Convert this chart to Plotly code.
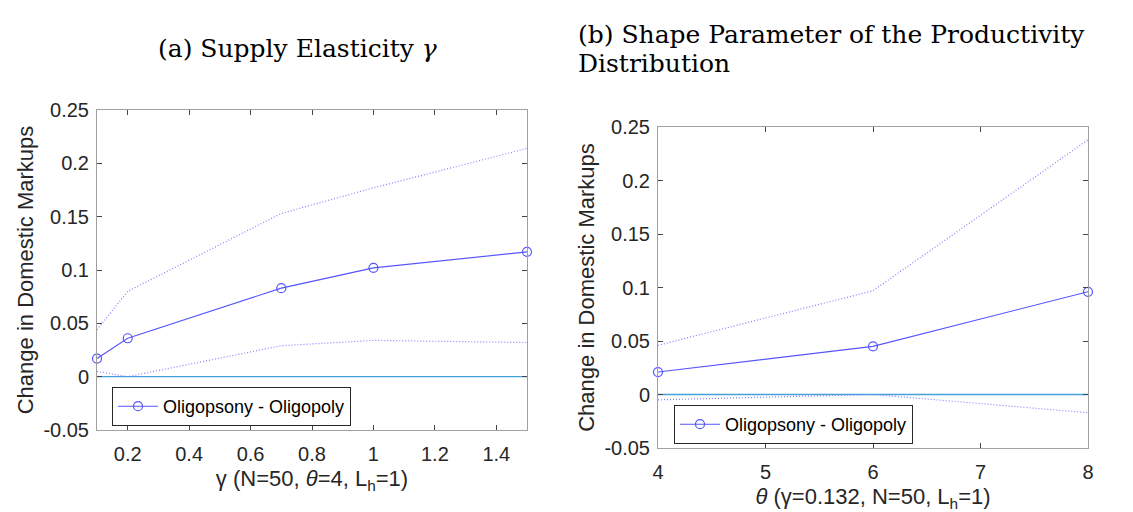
import plotly.graph_objects as go

# Panel (a): supply elasticity gamma
gamma = [0.1, 0.2, 0.7, 1.0, 1.5]
gamma_mid = [0.017, 0.036, 0.083, 0.102, 0.117]
gamma_up = [0.044, 0.080, 0.153, 0.177, 0.214]
gamma_lo = [0.005, 0.000, 0.029, 0.034, 0.032]

# Panel (b): shape parameter theta
theta = [4, 6, 8]
theta_mid = [0.021, 0.045, 0.096]
theta_up = [0.046, 0.097, 0.238]
theta_lo = [-0.005, 0.000, -0.017]

series_name = "Oligopsony - Oligopoly"
y_ticks = [-0.05, 0, 0.05, 0.1, 0.15, 0.2, 0.25]
y_ticklabels = ["-0.05", "0", "0.05", "0.1", "0.15", "0.2", "0.25"]
gx_ticks = [0.2, 0.4, 0.6, 0.8, 1.0, 1.2, 1.4]
gx_ticklabels = ["0.2", "0.4", "0.6", "0.8", "1", "1.2", "1.4"]
tx_ticks = [4, 5, 6, 7, 8]

MAIN = "rgb(85,85,255)"
BAND = "rgb(130,130,255)"
ZERO = "rgb(70,160,220)"
SANS = "Liberation Sans, Arial, sans-serif"
SERIF = "DejaVu Serif, Liberation Serif, serif"
W, H = 1133, 512

fig = go.Figure()

def add_panel(x, mid, up, lo, xa, ya, legend):
    fig.add_trace(go.Scatter(x=x, y=[0] * len(x), mode="lines", line=dict(color=ZERO, width=1.3),
                             xaxis=xa, yaxis=ya, showlegend=False, hoverinfo="skip"))
    fig.add_trace(go.Scatter(x=x, y=up, mode="lines", line=dict(color=BAND, width=1.2, dash="1px,2px"),
                             xaxis=xa, yaxis=ya, showlegend=False))
    fig.add_trace(go.Scatter(x=x, y=lo, mode="lines", line=dict(color=BAND, width=1.2, dash="1px,2px"),
                             xaxis=xa, yaxis=ya, showlegend=False))
    fig.add_trace(go.Scatter(x=x, y=mid, mode="lines+markers", name=series_name,
                             line=dict(color=MAIN, width=1.1),
                             marker=dict(symbol="circle-open", size=9, color=MAIN, line=dict(width=1.2)),
                             xaxis=xa, yaxis=ya, legend=legend, cliponaxis=False))

add_panel(gamma, gamma_mid, gamma_up, gamma_lo, "x", "y", "legend")
add_panel(theta, theta_mid, theta_up, theta_lo, "x2", "y2", "legend2")

axis_common = dict(showline=True, linecolor="rgb(160,160,160)", linewidth=1, mirror="ticks",
                   ticks="inside", ticklen=5, tickcolor="rgb(70,70,70)", showgrid=False, zeroline=False,
                   automargin=False,
                   tickfont=dict(family=SANS, size=20, color="rgb(38,38,38)"),
                   title_font=dict(family=SANS, size=22, color="rgb(38,38,38)"))
xcommon = dict(ticklabelstandoff=6, **axis_common)
ycommon = dict(ticklabelstandoff=3, **axis_common)

fig.update_layout(
    width=W, height=H,
    margin=dict(l=0, r=0, t=0, b=0),
    paper_bgcolor="white", plot_bgcolor="white",
    xaxis=dict(domain=[89 / W, 519 / W], range=[0.1, 1.5], tickvals=gx_ticks, ticktext=gx_ticklabels,
               title=dict(text="γ (N=50, <i>θ</i>=4, L<sub>h</sub>=1)", standoff=6), anchor="y", **xcommon),
    yaxis=dict(domain=[1 - 422 / H, 1 - 102 / H], range=[-0.05, 0.25], tickvals=y_ticks, ticktext=y_ticklabels,
               title=dict(text="Change in Domestic Markups", standoff=3), anchor="x", **ycommon),
    xaxis2=dict(domain=[650 / W, 1080 / W], range=[4, 8], tickvals=tx_ticks,
                title=dict(text="<i>θ</i> (γ=0.132, N=50, L<sub>h</sub>=1)", standoff=6), anchor="y2", **xcommon),
    yaxis2=dict(domain=[1 - 440 / H, 1 - 119 / H], range=[-0.05, 0.25], tickvals=y_ticks, ticktext=y_ticklabels,
                title=dict(text="Change in Domestic Markups", standoff=3), anchor="x2", **ycommon),
    legend=dict(x=104 / W, y=1 - 379 / H, xanchor="left", yanchor="top", bgcolor="white",
                bordercolor="rgb(40,40,40)", borderwidth=1, itemwidth=40,
                font=dict(family=SANS, size=18, color="black")),
    legend2=dict(x=666 / W, y=1 - 397 / H, xanchor="left", yanchor="top", bgcolor="white",
                 bordercolor="rgb(40,40,40)", borderwidth=1, itemwidth=40,
                 font=dict(family=SANS, size=18, color="black")),
    annotations=[
        dict(text="(a) Supply Elasticity <i>γ</i>", x=289 / W, y=1 - 40 / H, xref="paper", yref="paper",
             xanchor="center", yanchor="middle", showarrow=False,
             font=dict(family=SERIF, size=25, color="black")),
        dict(text="(b) Shape Parameter of the Productivity", x=568 / W, y=1 - 26 / H,
             xref="paper", yref="paper", xanchor="left", yanchor="middle", align="left", showarrow=False,
             font=dict(family=SERIF, size=25, color="black")),
        dict(text="Distribution", x=568 / W, y=1 - 55 / H,
             xref="paper", yref="paper", xanchor="left", yanchor="middle", align="left", showarrow=False,
             font=dict(family=SERIF, size=25, color="black")),
    ],
)

fig.write_html("out.html")
